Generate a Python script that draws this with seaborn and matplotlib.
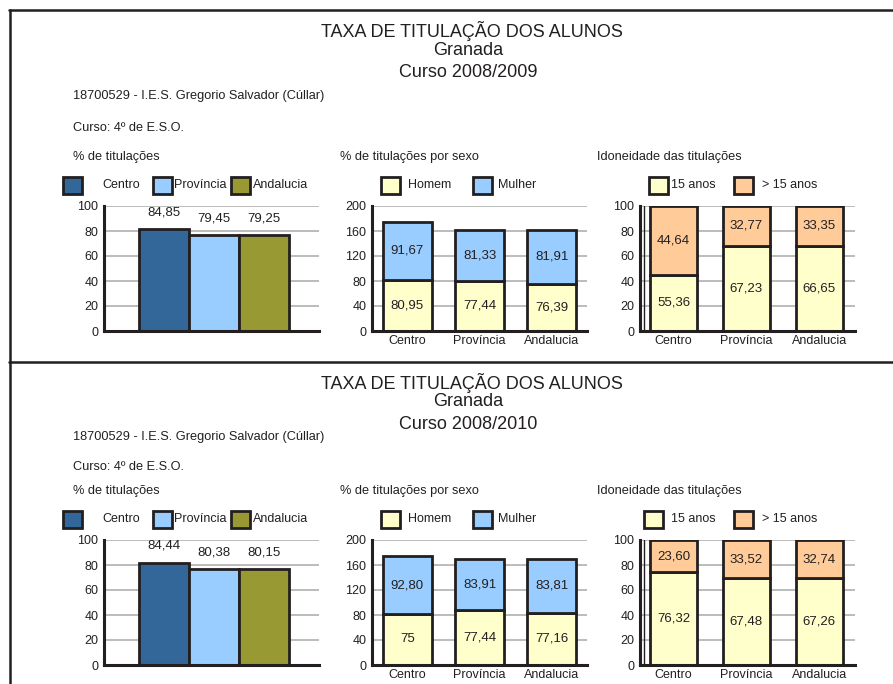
import numpy as np
import matplotlib.pyplot as plt
import seaborn as sns
from matplotlib.patches import Rectangle
from matplotlib.lines import Line2D

# --- data ---
regioes = ["Centro", "Província", "Andalucia"]

# bar heights as drawn; labels as printed (the original report does not always agree)
tit_0809 = [81.5, 76.5, 76.5]
tit_0809_txt = ["84,85", "79,45", "79,25"]
tit_0810 = [82.0, 77.0, 77.0]
tit_0810_txt = ["84,44", "80,38", "80,15"]

homem_0809 = [82.0, 80.0, 75.7]
mulher_0809 = [92.4, 82.0, 86.3]
homem_0809_txt = ["80,95", "77,44", "76,39"]
mulher_0809_txt = ["91,67", "81,33", "81,91"]

homem_0810 = [82.0, 87.5, 84.0]
mulher_0810 = [92.0, 81.5, 85.0]
homem_0810_txt = ["75", "77,44", "77,16"]
mulher_0810_txt = ["92,80", "83,91", "83,81"]

anos15_0809 = [45.0, 68.3, 68.3]
mais15_0809 = [55.0, 31.7, 31.7]
anos15_0809_txt = ["55,36", "67,23", "66,65"]
mais15_0809_txt = ["44,64", "32,77", "33,35"]

anos15_0810 = [74.2, 69.6, 69.6]
mais15_0810 = [25.8, 30.4, 30.4]
anos15_0810_txt = ["76,32", "67,48", "67,26"]
mais15_0810_txt = ["23,60", "33,52", "32,74"]

cores_regiao = ["#336699", "#99ccff", "#999933"]
cor_homem, cor_mulher = "#ffffcc", "#99ccff"
cor_15, cor_mais15 = "#ffffcc", "#ffcc99"
ink = "#231f20"

# --- figure setup ---
sns.set_theme(style="white")
plt.rcParams['font.family'] = ['Liberation Sans', 'DejaVu Sans']
plt.rcParams['text.color'] = ink

W, H = 893, 684
fig = plt.figure(figsize=(W / 100, H / 100), dpi=100)


def fx(px):
    return px / W


def fy(py):
    return 1 - py / H


def px_axes(x0, y0, x1, y1):
    return fig.add_axes([x0 / W, 1 - y1 / H, (x1 - x0) / W, (y1 - y0) / H])


def style_axes(ax, ymax, step, xlim, show_cats):
    ax.set_ylim(0, ymax)
    ax.set_xlim(*xlim)
    ax.set_yticks(np.arange(0, ymax + 1, step))
    ax.yaxis.grid(True, color="#b0b0b0", lw=1.2)
    ax.xaxis.grid(False)
    ax.set_axisbelow(True)
    for s in ["top", "right"]:
        ax.spines[s].set_visible(False)
    for s in ["left", "bottom"]:
        ax.spines[s].set_linewidth(2.2)
        ax.spines[s].set_color(ink)
    ax.tick_params(axis="y", length=0, labelsize=9, pad=4, labelcolor=ink)
    ax.tick_params(axis="x", length=0, labelsize=9, pad=3, labelcolor=ink)
    ax.set_xlabel("")
    ax.set_ylabel("")
    if not show_cats:
        ax.set_xticklabels([])
    ax.patch.set_alpha(0)


def legend_item(x, y, color, label, tx):
    fig.add_artist(Rectangle((fx(x), fy(y + 8.5)), 19 / W, 17 / H, transform=fig.transFigure,
                             facecolor=color, edgecolor=ink, lw=2))
    fig.text(fx(tx), fy(y), label, fontsize=9, va="center", ha="left")


def stacked(ax, low, high, c_low, c_high, low_txt, high_txt, width):
    sns.barplot(x=regioes, y=low, color=c_low, saturation=1, width=width,
                edgecolor=ink, linewidth=2, ax=ax)
    sns.barplot(x=regioes, y=high, bottom=low, color=c_high, saturation=1, width=width,
                edgecolor=ink, linewidth=2, ax=ax)
    for i in range(len(regioes)):
        ax.text(i, low[i] / 2, low_txt[i], ha="center", va="center", fontsize=9.5)
        ax.text(i, low[i] + high[i] / 2, high_txt[i], ha="center", va="center", fontsize=9.5)


def draw_block(tb, ty, by, curso, tit, tit_txt, hom, mul, hom_txt, mul_txt, a15, m15, a15_txt, m15_txt,
               x15=649):
    # header texts (title lines placed on their baselines)
    fig.text(fx(471.5), fy(tb[0]), "TAXA DE TITULAÇÃO DOS ALUNOS", fontsize=13, ha="center", va="baseline")
    fig.text(fx(468), fy(tb[1]), "Granada", fontsize=13, ha="center", va="baseline")
    fig.text(fx(468), fy(tb[2]), curso, fontsize=13, ha="center", va="baseline")
    fig.text(fx(73), fy(ty[0]), "18700529 - I.E.S. Gregorio Salvador (Cúllar)", fontsize=9.2, va="center")
    fig.text(fx(73), fy(ty[1]), "Curso: 4º de E.S.O.", fontsize=9.2, va="center")
    fig.text(fx(73), fy(by + 157), "% de titulações", fontsize=9.2, va="center")
    fig.text(fx(340), fy(by + 157), "% de titulações por sexo", fontsize=9.2, va="center")
    fig.text(fx(597), fy(by + 157), "Idoneidade das titulações", fontsize=9.2, va="center")

    # legends
    ly = by + 185.5
    legend_item(63, ly, cores_regiao[0], "Centro", 102)
    legend_item(153, ly, cores_regiao[1], "Província", 174)
    legend_item(231, ly, cores_regiao[2], "Andalucia", 253)
    legend_item(381, ly, cor_homem, "Homem", 408)
    legend_item(473, ly, cor_mulher, "Mulher", 498)
    legend_item(x15, ly, cor_15, "15 anos", 671)
    legend_item(734, ly, cor_mais15, "> 15 anos", 762)

    # % de titulações
    ax1 = px_axes(104, by + 206, 319, by + 331)
    sns.barplot(x=regioes, y=tit, hue=regioes, palette=cores_regiao, saturation=1, width=1,
                dodge=False, legend=False, edgecolor=ink, linewidth=2, ax=ax1)
    for i, (h, t) in enumerate(zip(tit, tit_txt)):
        ax1.annotate(t, (i, h), xytext=(0, 12), textcoords="offset points",
                     ha="center", va="center", fontsize=9.5)
    style_axes(ax1, 100, 20, (-1.2, 3.1), False)

    # por sexo
    ax2 = px_axes(372, by + 206, 587, by + 331)
    stacked(ax2, hom, mul, cor_homem, cor_mulher, hom_txt, mul_txt, 0.68)
    style_axes(ax2, 200, 40, (-0.49, 2.49), True)

    # idoneidade
    ax3 = px_axes(640, by + 206, 855, by + 331)
    stacked(ax3, a15, m15, cor_15, cor_mais15, a15_txt, m15_txt, 0.65)
    style_axes(ax3, 100, 20, (-0.46, 2.49), True)
    # inner wall line next to the axis
    ax3.plot([0.019, 0.019], [0, 1], transform=ax3.transAxes, color=ink, lw=1, zorder=1)


draw_block([37, 55, 77], [96, 128], 0, "Curso 2008/2009",
           tit_0809, tit_0809_txt, homem_0809, mulher_0809, homem_0809_txt, mulher_0809_txt,
           anos15_0809, mais15_0809, anos15_0809_txt, mais15_0809_txt)
draw_block([389, 406, 429], [437, 467], 334, "Curso 2008/2010",
           tit_0810, tit_0810_txt, homem_0810, mulher_0810, homem_0810_txt, mulher_0810_txt,
           anos15_0810, mais15_0810, anos15_0810_txt, mais15_0810_txt, x15=644)

# page frame lines
frame_kw = dict(transform=fig.transFigure, color=ink, lw=1.8)
fig.add_artist(Line2D([fx(9), fx(W)], [fy(10), fy(10)], **frame_kw))
fig.add_artist(Line2D([fx(9.5), fx(9.5)], [fy(10), fy(H)], **frame_kw))
fig.add_artist(Line2D([fx(9), fx(W)], [fy(362), fy(362)], **frame_kw))

fig.savefig("out.png", dpi=100, facecolor="white")
